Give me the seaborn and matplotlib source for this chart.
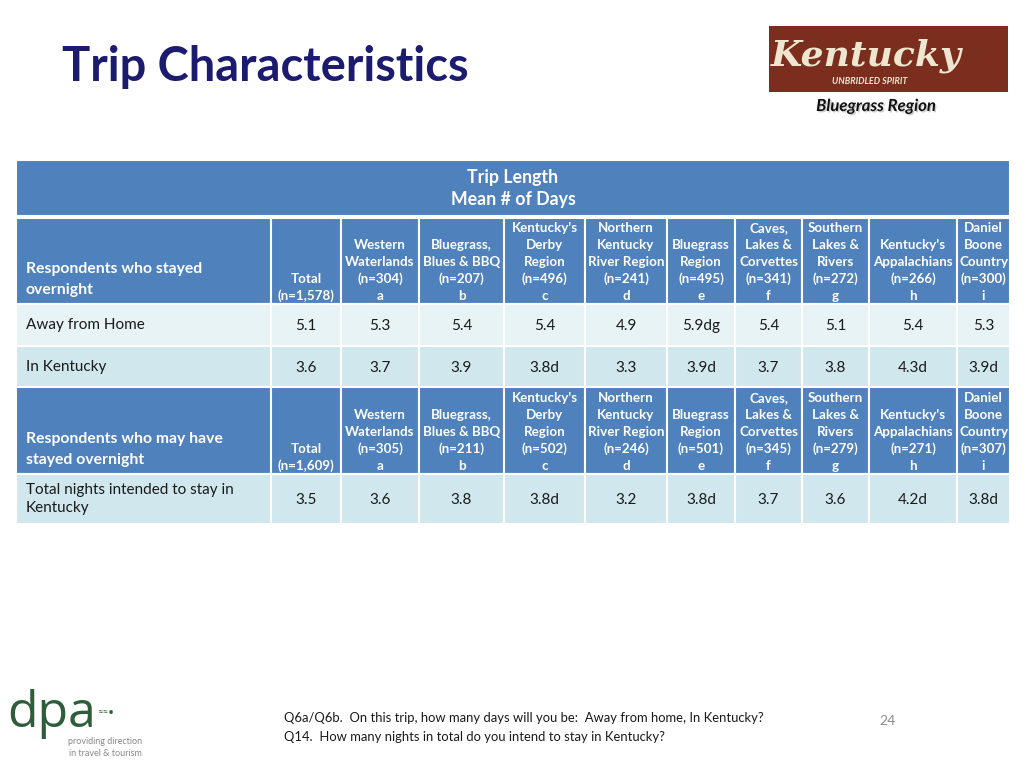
import seaborn as sns
import matplotlib.pyplot as plt
from matplotlib.patches import Rectangle
import matplotlib.patheffects as pe

# Daten
regions = ["Total", "Western\nWaterlands", "Bluegrass,\nBlues & BBQ",
           "Kentucky's\nDerby\nRegion", "Northern\nKentucky\nRiver Region",
           "Bluegrass\nRegion", "Caves,\nLakes &\nCorvettes",
           "Southern\nLakes &\nRivers", "Kentucky's\nAppalachians",
           "Daniel\nBoone\nCountry"]
letters = ["", "a", "b", "c", "d", "e", "f", "g", "h", "i"]
n_stayed = ["1,578", "304", "207", "496", "241", "495", "341", "272", "266", "300"]
n_may = ["1,609", "305", "211", "502", "246", "501", "345", "279", "271", "307"]

away_home = [5.1, 5.3, 5.4, 5.4, 4.9, 5.9, 5.4, 5.1, 5.4, 5.3]
away_sig = ["", "", "", "", "", "dg", "", "", "", ""]
in_kentucky = [3.6, 3.7, 3.9, 3.8, 3.3, 3.9, 3.7, 3.8, 4.3, 3.9]
in_ky_sig = ["", "", "", "d", "", "d", "", "", "d", "d"]
nights = [3.5, 3.6, 3.8, 3.8, 3.2, 3.8, 3.7, 3.6, 4.2, 3.8]
nights_sig = ["", "", "", "d", "", "d", "", "", "d", "d"]

sns.set_theme(style="white")
plt.rcParams['font.family'] = ['Lato', 'DejaVu Sans']

BLUE = "#4F81BD"
LIGHT1 = "#E8F3F5"
LIGHT2 = "#D0E7ED"
TXT = "#1a1a1a"

fig = plt.figure(figsize=(10.24, 7.68), dpi=100)
ax = fig.add_axes([0, 0, 1, 1])
ax.set_xlim(0, 1024)
ax.set_ylim(768, 0)
ax.axis('off')

edges = [16, 271, 341, 419, 504, 585, 667, 735, 802, 869, 957, 1010]


def cell(x0, x1, y0, y1, color):
    ax.add_patch(Rectangle((x0, y0), x1 - x0, y1 - y0, facecolor=color,
                           edgecolor='white', lw=1.5))


# Titel
ax.text(62, 67, "Trip Characteristics", fontsize=33.8, fontweight='bold',
        color="#1B1B6F", va='center', ha='left')

# Kentucky Logo
ax.add_patch(Rectangle((769, 26), 239, 66, facecolor="#7B2D1E", edgecolor='none'))
ax.text(866, 56, "Kentucky", fontsize=26, fontweight='bold', style='italic',
        family=['DejaVu Serif'], color="#EFE6CF", ha='center', va='center')
ax.text(870, 82, "UNBRIDLED SPIRIT", fontsize=6.5, style='italic', fontweight='bold',
        color="#EFE6CF", ha='center', va='center')
ax.text(876, 106, "Bluegrass Region", fontsize=12, fontweight='bold', style='italic',
        color="#111111", ha='center', va='center',
        path_effects=[pe.withSimplePatchShadow(offset=(1, -1), alpha=0.2)])

# Kopfband
cell(16, 1010, 160, 216, BLUE)
ax.text(513, 177, "Trip Length", fontsize=12.8, fontweight='bold', color='white',
        ha='center', va='center')
ax.text(513, 200, "Mean # of Days", fontsize=12.8, fontweight='bold', color='white',
        ha='center', va='center')


def header_row(y0, y1, label, ns):
    for i in range(len(edges) - 1):
        cell(edges[i], edges[i + 1], y0, y1, BLUE)
    ax.text(26, y1 - 35, label[0], fontsize=11.3, fontweight='bold', color='white',
            ha='left', va='center')
    ax.text(26, y1 - 14, label[1], fontsize=11.3, fontweight='bold', color='white',
            ha='left', va='center')
    for j, reg in enumerate(regions):
        xc = (edges[j + 1] + edges[j + 2]) / 2
        lines = reg.split("\n") + ["(n=" + ns[j] + ")"]
        if letters[j]:
            lines.append(letters[j])
        for k, line in enumerate(reversed(lines)):
            ax.text(xc, y1 - 8 - 17 * k, line, fontsize=9.6, fontweight='bold',
                    color='white', ha='center', va='center')


def data_row(y0, y1, color, label, vals, sigs):
    for i in range(len(edges) - 1):
        cell(edges[i], edges[i + 1], y0, y1, color)
    ym = (y0 + y1) / 2
    ax.text(26, ym, label, fontsize=11, color=TXT, ha='left', va='center',
            linespacing=1.4)
    for j, (v, s) in enumerate(zip(vals, sigs)):
        xc = (edges[j + 1] + edges[j + 2]) / 2
        ax.text(xc, ym + 1, f"{v:.1f}{s}", fontsize=11, color=TXT,
                ha='center', va='center')


header_row(218, 304, ("Respondents who stayed", "overnight"), n_stayed)
data_row(304, 346, LIGHT1, "Away from Home", away_home, away_sig)
data_row(346, 387, LIGHT2, "In Kentucky", in_kentucky, in_ky_sig)
header_row(387, 474, ("Respondents who may have", "stayed overnight"), n_may)
data_row(474, 524, LIGHT2, "Total nights intended to stay in\nKentucky", nights, nights_sig)

# dpa Logo
ax.text(7, 727, "dpa", fontsize=36, color="#2F5D3A", ha='left', va='baseline',
        family=['Open Sans', 'DejaVu Sans'])
ax.text(97, 712, "\u2248\u2248\u2022", fontsize=7, color="#2F5D3A", ha='left', va='center')
ax.text(142, 742, "providing direction", fontsize=6.5, color="#8a8a8a", ha='right', va='center')
ax.text(142, 754, "in travel & tourism", fontsize=6.5, color="#8a8a8a", ha='right', va='center')

# Fussnoten
foot = ['Lato', 'DejaVu Sans']
ax.text(284, 718, "Q6a/Q6b.  On this trip, how many days will you be:  Away from home, In Kentucky?",
        fontsize=9.4, color=TXT, ha='left', va='center', family=foot)
ax.text(284, 737, "Q14.  How many nights in total do you intend to stay in Kentucky?",
        fontsize=9.4, color=TXT, ha='left', va='center', family=foot)
ax.text(887, 721, "24", fontsize=10, color="#8c8c8c", ha='center', va='center')

fig.savefig("out.png", dpi=100)
